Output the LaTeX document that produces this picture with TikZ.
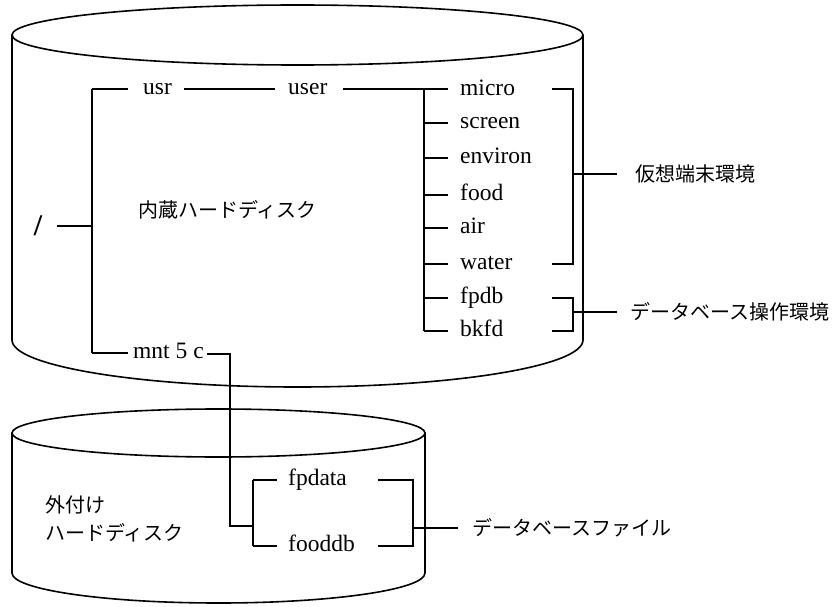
\documentclass[tikz,border=0pt]{standalone}
\usepackage{fontspec}
\setmainfont{Liberation Serif}
\newfontfamily\jp{Noto Sans CJK JP}
\begin{document}
\begin{tikzpicture}[x=1pt,y=-1pt,
  cyl/.style={line width=1.6pt},
  tree/.style={line width=1.3pt},
  lat/.style={anchor=base west, inner sep=0pt, font=\fontsize{23.5}{28}\selectfont},
  jpl/.style={anchor=base west, inner sep=0pt, font=\jp\fontsize{20}{24}\selectfont}]
\useasboundingbox (0,0) rectangle (838,607);
% upper cylinder
\draw[cyl] (297.5,35) ellipse [x radius=285.5, y radius=30];
\draw[cyl] (12,35) -- (12,340) .. controls (12,366) and (139.8,387) .. (297.5,387)
  .. controls (455.2,387) and (583,366) .. (583,340) -- (583,35);
% lower cylinder
\draw[cyl] (218.5,433) ellipse [x radius=206.5, y radius=24];
\draw[cyl] (12,433) -- (12,573) .. controls (12,589.6) and (104.5,603) .. (218.5,603)
  .. controls (332.5,603) and (425,589.6) .. (425,573) -- (425,433);
% text nodes
\node[inner sep=0pt, font=\bfseries\fontsize{30}{34}\selectfont] (root) at (38,226) {/};
\node[lat] (usr) at (143,94.5) {usr};
\node[lat] (user) at (288,94.5) {user};
\node[lat] (micro) at (460,95.5) {micro};
\node[lat] (screen) at (460,128.5) {screen};
\node[lat] (environ) at (460,163.5) {environ};
\node[lat] (food) at (460,200.5) {food};
\node[lat] (air) at (460,233.5) {air};
\node[lat] (water) at (460,269.5) {water};
\node[lat] (fpdb) at (460,303.5) {fpdb};
\node[lat] (bkfd) at (460,336.5) {bkfd};
\node[lat] (mnt) at (133,358.5) {mnt 5 c};
\node[lat] (fpdata) at (288,485.5) {fpdata};
\node[lat] (fooddb) at (288,551.5) {fooddb};
\node[jpl] (naizo) at (138,217.5) {内蔵ハードディスク};
\node[jpl] (kaso) at (635,181.5) {仮想端末環境};
\node[jpl] (dbsosa) at (630,319.5) {データベース操作環境};
\node[jpl] (dbfile) at (472,535.5) {データベースファイル};
\node[jpl] (sotozuke) at (45,512.5) {外付け};
\node[jpl] (hdd) at (45,540.5) {ハードディスク};
% coordinates
\coordinate (r1) at (57,226);
\coordinate (tr) at (92,226);
\coordinate (ttop) at (92,89);
\coordinate (tbot) at (92,353);
\coordinate (u1) at (128,89);
\coordinate (u2) at (184,89);
\coordinate (u3) at (275,89);
\coordinate (u4) at (343,89);
\coordinate (btop) at (424,89);
\coordinate (bbot) at (424,331);
\coordinate (m1) at (448,89);
\foreach \n/\y in {s/123,e/158,f/195,a/228,w/264,p/298,b/331}{
  \coordinate (l\n) at (424,\y);
  \coordinate (k\n) at (448,\y);
}
\coordinate (mn1) at (128,353);
\coordinate (mn2) at (207,354);
\coordinate (mn3) at (230,354);
\coordinate (mn4) at (230,526);
\coordinate (mn5) at (253,526);
\coordinate (fv1) at (253,480);
\coordinate (fv2) at (253,546);
\coordinate (ft1) at (277,480);
\coordinate (ft2) at (277,546);
% brackets
\coordinate (b1a) at (552,89);  \coordinate (b1b) at (573,89);
\coordinate (b1c) at (573,264); \coordinate (b1d) at (552,264);
\coordinate (b1m) at (573,174); \coordinate (b1e) at (617,174);
\coordinate (b2a) at (552,298); \coordinate (b2b) at (573,298);
\coordinate (b2c) at (573,331); \coordinate (b2d) at (552,331);
\coordinate (b2m) at (573,312); \coordinate (b2e) at (617,312);
\coordinate (b3a) at (378,480); \coordinate (b3b) at (413,480);
\coordinate (b3c) at (413,546); \coordinate (b3d) at (378,546);
\coordinate (b3m) at (413,528); \coordinate (b3e) at (458,528);
% tree lines
\draw[tree] (r1) -- (tr);
\draw[tree] (ttop) -- (tbot);
\draw[tree] (ttop) -- (u1);
\draw[tree] (u2) -- (u3);
\draw[tree] (u4) -- (m1);
\draw[tree] (btop) -- (bbot);
\foreach \n in {s,e,f,a,w,p,b}{\draw[tree] (l\n) -- (k\n);}
\draw[tree] (tbot) -- (mn1);
\draw[tree] (mn2) -- (mn3) -- (mn4) -- (mn5);
\draw[tree] (fv1) -- (fv2);
\draw[tree] (fv1) -- (ft1);
\draw[tree] (fv2) -- (ft2);
\draw[tree] (b1a) -- (b1b) -- (b1c) -- (b1d);
\draw[tree] (b1m) -- (b1e);
\draw[tree] (b2a) -- (b2b) -- (b2c) -- (b2d);
\draw[tree] (b2m) -- (b2e);
\draw[tree] (b3a) -- (b3b) -- (b3c) -- (b3d);
\draw[tree] (b3m) -- (b3e);
\end{tikzpicture}
\end{document}
